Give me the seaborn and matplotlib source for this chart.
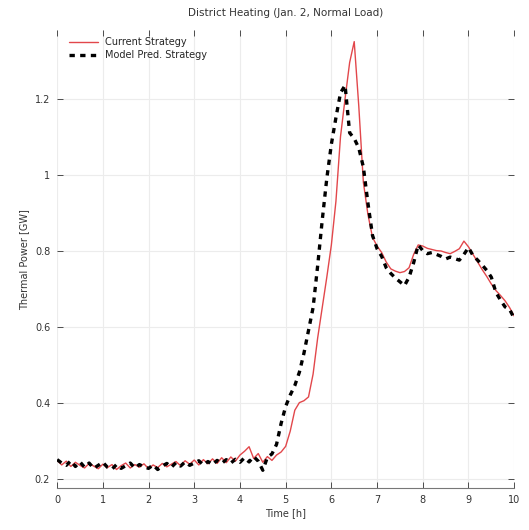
import numpy as np
import pandas as pd
import matplotlib
matplotlib.use("Agg")
import matplotlib.pyplot as plt
import seaborn as sns

# time axis in hours, 6-minute resolution
time_h = [round(0.1 * i, 1) for i in range(101)]

current_strategy = [
    0.248, 0.236, 0.246, 0.232, 0.243, 0.235, 0.228, 0.240, 0.233, 0.226,
    0.238, 0.229, 0.237, 0.224, 0.234, 0.241, 0.228, 0.237, 0.230, 0.239,
    0.226, 0.236, 0.229, 0.240, 0.231, 0.238, 0.245, 0.234, 0.247, 0.238,
    0.249, 0.236, 0.250, 0.239, 0.252, 0.240, 0.255, 0.242, 0.257, 0.246,
    0.262, 0.272, 0.284, 0.253, 0.266, 0.243, 0.258, 0.248, 0.262, 0.270,
    0.285, 0.325, 0.380, 0.400, 0.405, 0.415, 0.475, 0.570, 0.650, 0.730,
    0.815, 0.930, 1.100, 1.200, 1.295, 1.350, 1.180, 0.980, 0.895, 0.835,
    0.812, 0.795, 0.770, 0.752, 0.746, 0.742, 0.745, 0.755, 0.790, 0.815,
    0.812, 0.806, 0.803, 0.800, 0.799, 0.795, 0.792, 0.798, 0.805, 0.825,
    0.810, 0.790, 0.770, 0.750, 0.732, 0.712, 0.695, 0.682, 0.668, 0.650,
    0.628,
]

model_strategy = [
    0.250, 0.241, 0.235, 0.247, 0.232, 0.244, 0.230, 0.241, 0.227, 0.235,
    0.243, 0.230, 0.225, 0.237, 0.227, 0.234, 0.241, 0.228, 0.237, 0.231,
    0.227, 0.236, 0.224, 0.233, 0.240, 0.230, 0.242, 0.233, 0.244, 0.235,
    0.241, 0.247, 0.236, 0.245, 0.237, 0.248, 0.240, 0.250, 0.241, 0.251,
    0.243, 0.255, 0.244, 0.258, 0.246, 0.222, 0.256, 0.265, 0.290, 0.345,
    0.390, 0.420, 0.445, 0.480, 0.530, 0.590, 0.650, 0.760, 0.880, 0.990,
    1.080, 1.150, 1.215, 1.235, 1.110, 1.095, 1.070, 1.020, 0.925, 0.840,
    0.805, 0.785, 0.755, 0.740, 0.728, 0.718, 0.708, 0.730, 0.768, 0.815,
    0.800, 0.792, 0.795, 0.790, 0.785, 0.778, 0.783, 0.779, 0.775, 0.790,
    0.808, 0.787, 0.775, 0.762, 0.748, 0.730, 0.690, 0.670, 0.652, 0.645,
    0.622,
]

series_names = ["Current Strategy", "Model Pred. Strategy"]
x_ticks = list(range(0, 11))
y_ticks = [0.2, 0.4, 0.6, 0.8, 1.0, 1.2]
y_tick_labels = ["0.2", "0.4", "0.6", "0.8", "1", "1.2"]

df = pd.DataFrame({
    "Time": time_h * 2,
    "Power": current_strategy + model_strategy,
    "Strategy": [series_names[0]] * len(time_h) + [series_names[1]] * len(time_h),
})

sns.set_theme(style="white")
plt.rcParams["font.family"] = ["DejaVu Sans"]

fig = plt.figure(figsize=(5.29, 5.30), dpi=100)
ax = fig.add_axes([0.108, 0.079, 0.864, 0.864])

ax.grid(True, color="#ececec", linewidth=0.8)
ax.set_axisbelow(True)

sns.lineplot(data=df[df["Strategy"] == series_names[0]], x="Time", y="Power",
             color="#e2474b", linewidth=1.0, ax=ax, label=series_names[0])
sns.lineplot(data=df[df["Strategy"] == series_names[1]], x="Time", y="Power",
             color="black", linewidth=2.4, ax=ax, label=series_names[1])
ax.lines[1].set_dashes((1.6, 1.6))

ax.set_xlim(0, 10)
ax.set_ylim(0.175, 1.38)
ax.set_xticks(x_ticks)
ax.set_yticks(y_ticks)
ax.set_yticklabels(y_tick_labels)

ax.tick_params(axis="both", which="both", direction="in", length=4,
               labelsize=7, colors="#333333", top=True, right=True,
               bottom=True, left=True, width=0.6, pad=5)
for side in ["top", "left", "right"]:
    ax.spines[side].set_visible(False)
ax.spines["bottom"].set_color("#777777")
ax.spines["bottom"].set_linewidth(0.8)

ax.set_xlabel("Time [h]", fontsize=7, color="#333333", labelpad=2)
ax.set_ylabel("Thermal Power [GW]", fontsize=7, color="#333333", labelpad=4)
ax.set_title("District Heating (Jan. 2, Normal Load)", fontsize=7.5,
             color="#333333", pad=10)

leg = ax.legend(loc="upper left", bbox_to_anchor=(0.01, 1.0), frameon=False,
                fontsize=7, handlelength=3.0, borderaxespad=0.3,
                labelspacing=0.3)

fig.savefig("out.png", dpi=100)
